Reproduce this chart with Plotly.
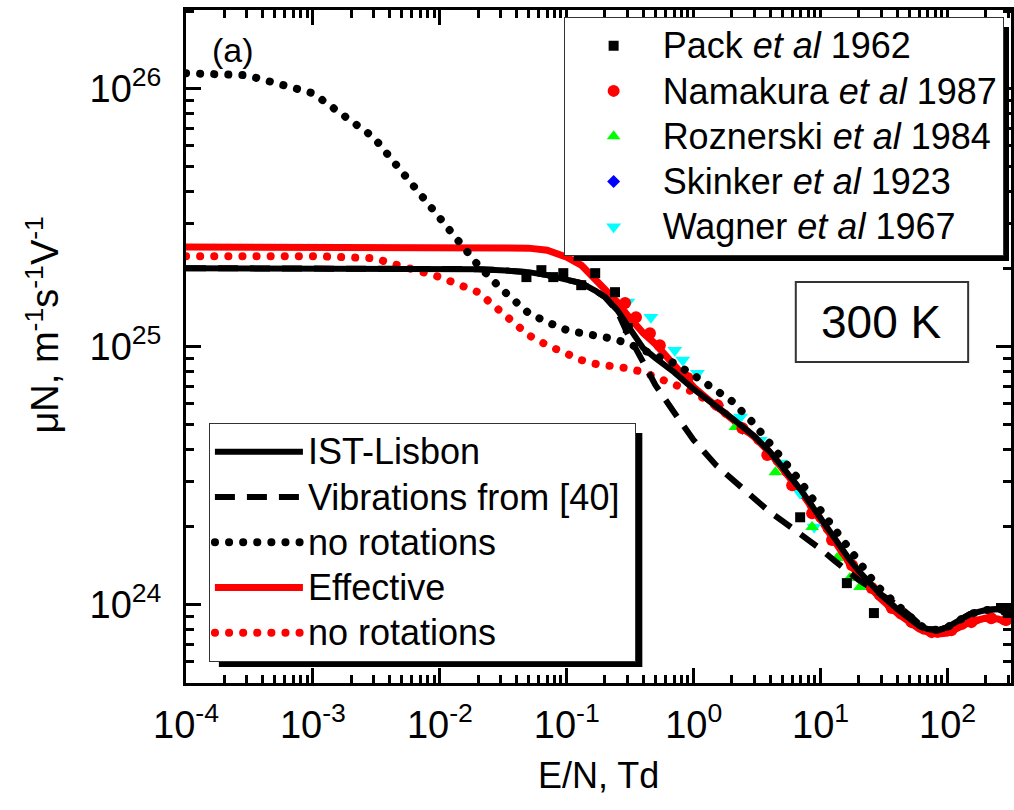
import plotly.graph_objects as go

# ---------------- data ----------------
en_grid = [1e-4, 3e-4, 1e-3, 3e-3, 0.01, 0.02, 0.03, 0.05, 0.07, 0.1,
           0.13, 0.17, 0.2, 0.25, 0.3, 0.4, 0.5, 0.7, 1, 1.5,
           2, 3, 4, 5, 7, 10, 13, 17, 20, 25,
           30, 40, 50, 60, 70, 85, 100, 120, 150, 200,
           250, 300]

ist_lisbon = [2.015e25, 2.015e25, 2.015e25, 2.015e25, 2.015e25, 1.997e25, 1.979e25, 1.944e25, 1.893e25, 1.826e25,
              1.762e25, 1.641e25, 1.556e25, 1.385e25, 1.211e25, 9.87e24, 9.03e24, 7.96e24, 6.84e24, 5.93e24,
              5.28e24, 4.50e24, 3.90e24, 3.41e24, 2.78e24, 2.16e24, 1.778e24, 1.488e24, 1.348e24, 1.201e24,
              1.088e24, 9.61e23, 8.79e23, 8.26e23, 8.04e23, 7.96e23, 8.18e23, 8.63e23, 9.19e23, 9.52e23,
              9.61e23, 9.44e23]

vib_40 = [2.015e25, 2.015e25, 2.015e25, 2.015e25, 2.015e25, 1.997e25, 1.979e25, 1.944e25, 1.893e25, 1.826e25,
          1.762e25, 1.641e25, 1.556e25, 1.373e25, 1.128e25, 8.71e24, 7.09e24, 5.57e24, 4.34e24, 3.47e24,
          3.07e24, 2.56e24, 2.28e24, 2.11e24, 1.876e24, 1.641e24, 1.474e24, 1.325e24, 1.245e24, 1.159e24,
          1.098e24, 9.96e23, 9.11e23, 8.40e23, 8.04e23, 7.96e23, 8.18e23, 8.63e23, 9.19e23, 9.52e23,
          9.61e23, 9.44e23]

no_rot_black = [1.148e26, 1.128e26, 9.60e25, 6.49e25, 3.15e25, 2.07e25, 1.686e25, 1.349e25, 1.245e25, 1.159e25,
                1.128e25, 1.108e25, 1.088e25, 1.060e25, 1.032e25, 9.69e24, 9.27e24, 8.63e24, 7.75e24, 6.84e24,
                6.15e24, 5.01e24, 4.23e24, 3.66e24, 2.98e24, 2.32e24, 1.944e24, 1.598e24, 1.448e24, 1.267e24,
                1.138e24, 9.96e23, 8.95e23, 8.33e23, 8.04e23, 7.96e23, 8.18e23, 8.63e23, 9.19e23, 9.52e23,
                9.61e23, 9.44e23]

effective = [2.431e25, 2.431e25, 2.431e25, 2.431e25, 2.431e25, 2.431e25, 2.431e25, 2.409e25, 2.366e25, 2.223e25,
             2.07e25, 1.810e25, 1.701e25, 1.488e25, 1.325e25, 1.128e25, 1.023e25, 8.48e24, 6.97e24, 5.88e24,
             5.24e24, 4.46e24, 3.87e24, 3.38e24, 2.73e24, 2.13e24, 1.731e24, 1.435e24, 1.301e24, 1.148e24,
             1.050e24, 9.27e23, 8.55e23, 8.04e23, 7.82e23, 7.69e23, 7.75e23, 8.11e23, 8.55e23, 8.86e23,
             8.79e23, 8.48e23]

no_rot_red = [2.243e25, 2.243e25, 2.243e25, 2.203e25, 1.860e25, 1.626e25, 1.385e25, 1.108e25, 1.013e25, 9.35e24,
              8.87e24, 8.56e24, 8.48e24, 8.33e24, 8.25e24, 7.96e24, 7.62e24, 7.09e24, 6.66e24, 5.88e24,
              5.28e24, 4.46e24, 3.87e24, 3.38e24, 2.73e24, 2.13e24, 1.731e24, 1.435e24, 1.301e24, 1.148e24,
              1.050e24, 9.27e23, 8.55e23, 8.04e23, 7.82e23, 7.69e23, 7.75e23, 8.11e23, 8.55e23, 8.86e23,
              8.79e23, 8.48e23]

pack_x = [0.0481, 0.0631, 0.0783, 0.0939, 0.130, 0.1675, 0.240, 0.303, 6.90, 16.1, 26.3, 290]
pack_y = [1.860e25, 1.979e25, 1.860e25, 1.927e25, 1.731e25, 1.927e25, 1.626e25, 1.180e25, 2.18e24, 1.211e24, 9.27e23, 9.52e23]

namakura_x = [0.288, 0.351, 0.452, 0.541, 0.897, 1.54, 2.42, 3.80, 5.97, 8.57,
              12.3, 17.7, 25.3, 36.4, 52.2, 75.0, 107, 154, 221, 290]
namakura_y = [1.475e25, 1.301e25, 1.128e25, 1.013e25, 7.55e24, 5.93e24, 4.83e24, 3.80e24, 2.90e24, 2.26e24,
              1.778e24, 1.422e24, 1.159e24, 9.69e23, 8.55e23, 7.82e23, 7.96e23, 8.55e23, 8.86e23, 8.71e23]

roznerski_x = [2.13, 4.40, 8.57, 13.5, 17.0, 20.4]
roznerski_y = [4.88e24, 3.26e24, 2.00e24, 1.514e24, 1.267e24, 1.169e24]

skinker_x = [0.897, 1.54, 2.42]
skinker_y = [7.55e24, 5.93e24, 4.83e24]

wagner_x = [0.303, 0.460, 0.710, 0.820, 1.07, 2.34, 3.35, 4.81, 6.90, 8.89]
wagner_y = [1.488e25, 1.301e25, 9.69e24, 8.87e24, 7.89e24, 5.33e24, 4.34e24, 3.54e24, 2.70e24, 2.00e24]

x_tickvals = [1e-4, 1e-3, 1e-2, 1e-1, 1, 10, 100]
x_ticktext = ["10<sup>-4</sup>", "10<sup>-3</sup>", "10<sup>-2</sup>", "10<sup>-1</sup>",
              "10<sup>0</sup>", "10<sup>1</sup>", "10<sup>2</sup>"]
y_tickvals = [1e24, 1e25, 1e26]
y_ticktext = ["10<sup>24</sup>", "10<sup>25</sup>", "10<sup>26</sup>"]

# ---------------- figure ----------------
W, H = 1014, 810
ML, MR, MT, MB = 186, 0, 10, 127
PW, PH = W - ML - MR, H - MT - MB


def px(xp):
    return (xp - ML) / PW


def py(yp):
    return (H - MB - yp) / PH


FONT = "Liberation Sans, Arial, sans-serif"
DOT = "8px,8px"   # replaced by round dots in the page script below


def big(s):
    return '<span style="font-size:36px">' + s + '</span>'


fig = go.Figure()

# model lines (red underneath)
fig.add_trace(go.Scatter(x=en_grid, y=no_rot_red, mode="lines", name=big("no rotations"),
                         line=dict(color="#ff0000", width=8, dash=DOT),
                         legend="legend2", legendrank=5))
fig.add_trace(go.Scatter(x=en_grid, y=effective, mode="lines", name=big("Effective"),
                         line=dict(color="#ff0000", width=7),
                         legend="legend2", legendrank=4))

# experimental points
fig.add_trace(go.Scatter(x=skinker_x, y=skinker_y, mode="markers", name=big("Skinker <i>et al</i> 1923"),
                         marker=dict(symbol="diamond", color="#0000ff", size=10),
                         legend="legend", legendrank=4))
fig.add_trace(go.Scatter(x=wagner_x, y=wagner_y, mode="markers", name=big("Wagner <i>et al</i> 1967"),
                         marker=dict(symbol="triangle-down", color="#00ffff", size=13),
                         legend="legend", legendrank=5))
fig.add_trace(go.Scatter(x=roznerski_x, y=roznerski_y, mode="markers", name=big("Roznerski <i>et al</i> 1984"),
                         marker=dict(symbol="triangle-up", color="#00ff00", size=12),
                         legend="legend", legendrank=3))
fig.add_trace(go.Scatter(x=namakura_x, y=namakura_y, mode="markers", name=big("Namakura <i>et al</i> 1987"),
                         marker=dict(symbol="circle", color="#ff0000", size=12),
                         legend="legend", legendrank=2))
fig.add_trace(go.Scatter(x=pack_x, y=pack_y, mode="markers", name=big("Pack <i>et al</i> 1962"),
                         marker=dict(symbol="square", color="#000000", size=10),
                         legend="legend", legendrank=1))

# black model lines on top
fig.add_trace(go.Scatter(x=en_grid, y=vib_40, mode="lines", name=big("Vibrations from [40]\u00a0"),
                         line=dict(color="#000000", width=6, dash="20px,12px"),
                         legend="legend2", legendrank=2))
fig.add_trace(go.Scatter(x=en_grid, y=ist_lisbon, mode="lines", name=big("IST-Lisbon"),
                         line=dict(color="#000000", width=6),
                         legend="legend2", legendrank=1))
fig.add_trace(go.Scatter(x=en_grid, y=no_rot_black, mode="lines", name=big("no rotations"),
                         line=dict(color="#000000", width=8, dash=DOT),
                         legend="legend2", legendrank=3))

axis_common = dict(
    type="log", showline=True, linecolor="black", linewidth=3, mirror="allticks",
    ticks="inside", ticklen=15, tickwidth=3, tickcolor="black",
    showgrid=False, zeroline=False, tickmode="array",
    tickfont=dict(family=FONT, size=38, color="black"),
    minor=dict(ticks="inside", ticklen=8, tickwidth=3, tickcolor="black", dtick="D1", showgrid=False),
)

fig.update_xaxes(range=[-4, 2.5], tickvals=x_tickvals, ticktext=x_ticktext,
                 ticklabelstandoff=6, **axis_common)
fig.update_yaxes(range=[23.696, 26.305], tickvals=y_tickvals, ticktext=y_ticktext,
                 ticklabelstandoff=14, **axis_common)

shadow = 10
leg1 = dict(x0=565, y0=17, x1=1002, y1=251)
leg2 = dict(x0=209, y0=423, x1=634, y1=657)
shapes = []
for lg in (leg1, leg2):
    shapes.append(dict(type="rect", xref="paper", yref="paper",
                       x0=px(lg["x0"] + shadow), x1=px(lg["x1"] + shadow),
                       y0=py(lg["y1"] + shadow), y1=py(lg["y0"] + shadow),
                       fillcolor="black", line=dict(width=0), layer="above"))
# 300 K box
shapes.append(dict(type="rect", xref="paper", yref="paper",
                   x0=px(798), x1=px(971), y0=py(362), y1=py(282),
                   fillcolor="white", line=dict(color="#333333", width=2), layer="above"))

legend_common = dict(xanchor="left", yanchor="top", bgcolor="white", bordercolor="#333333",
                     borderwidth=1, font=dict(family=FONT, size=32.5, color="black"),
                     itemwidth=88, tracegroupgap=0)

fig.update_layout(
    width=W, height=H,
    margin=dict(l=ML, r=MR, t=MT, b=MB, pad=0),
    paper_bgcolor="white", plot_bgcolor="white",
    font=dict(family=FONT, color="black"),
    shapes=shapes,
    legend=dict(x=px(leg1["x0"]), y=py(leg1["y0"]), **legend_common),
    legend2=dict(x=px(leg2["x0"]), y=py(leg2["y0"]), **legend_common),
    annotations=[
        dict(text="(a)", xref="paper", yref="paper", x=px(233), y=py(50),
             xanchor="center", yanchor="middle",
             showarrow=False, font=dict(family=FONT, size=34, color="black")),
        dict(text="300 K", xref="paper", yref="paper", x=px(884.5), y=py(322),
             xanchor="center", yanchor="middle",
             showarrow=False, font=dict(family=FONT, size=46, color="black")),
        dict(text="E/N, Td", xref="paper", yref="paper", x=px(600), y=py(775),
             xanchor="center", yanchor="middle",
             showarrow=False, font=dict(family=FONT, size=36, color="black")),
        dict(text="μN, m<sup>-1</sup>s<sup>-1</sup>V<sup>-1</sup>", xref="paper", yref="paper",
             x=px(42), y=py(325), textangle=-90, xanchor="center", yanchor="middle",
             showarrow=False, font=dict(family=FONT, size=38, color="black")),
    ],
)

# turn the square-ended dotted dashes into round dots (as in the original figure)
round_dots = """
var gd = document.getElementById('{plot_id}');
function roundDots() {
  gd.querySelectorAll('path').forEach(function (p) {
    var da = (p.style.strokeDasharray || '').replace(/\\s/g, '');
    if (da === '8px,8px') {
      p.style.strokeDasharray = '0.1px,14px';
      p.style.strokeLinecap = 'round';
    }
  });
}
roundDots();
setTimeout(roundDots, 0);
if (gd.on) { gd.on('plotly_afterplot', roundDots); }
"""

fig.write_html("out.html", post_script=round_dots)
